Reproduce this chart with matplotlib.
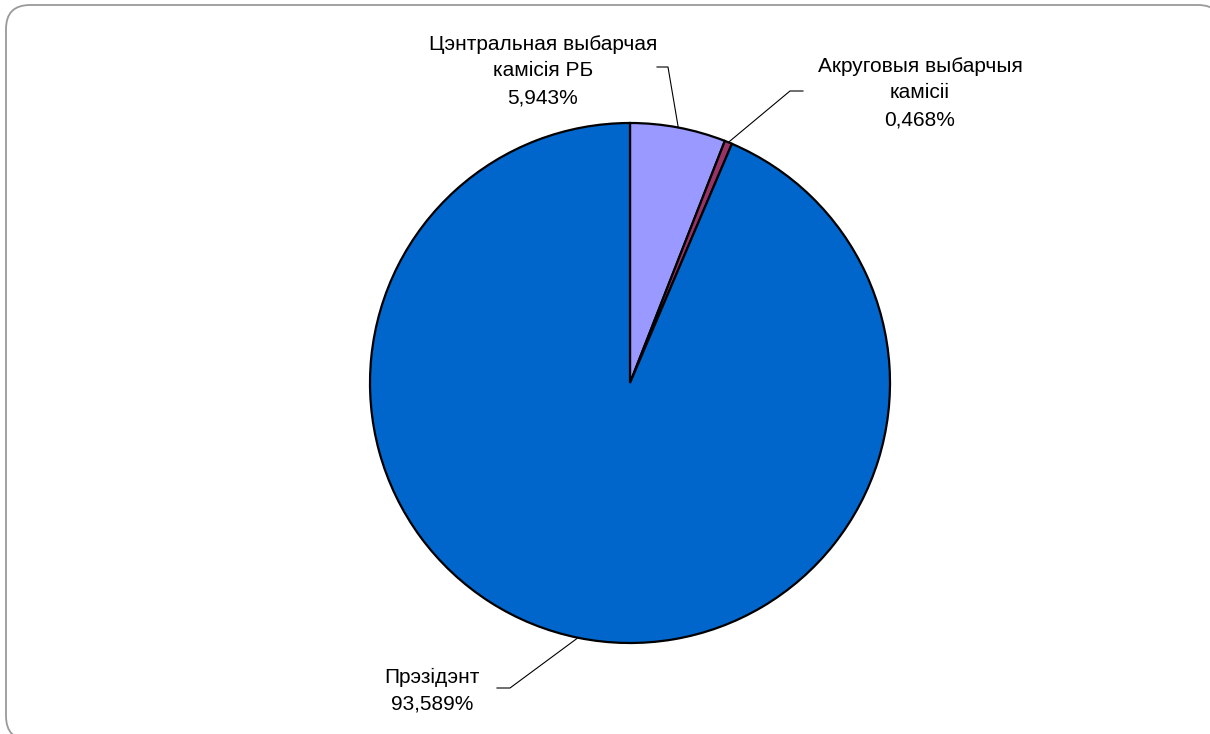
import numpy as np
import matplotlib.pyplot as plt
from matplotlib.patches import FancyBboxPatch

# Data
labels = [["Цэнтральная выбарчая", "камісія РБ"], ["Акруговыя выбарчыя", "камісіі"], ["Прэзідэнт"]]
values = [5.943, 0.468, 93.589]
value_text = ["5,943%", "0,468%", "93,589%"]
colors = ["#9999FF", "#993366", "#0066CC"]

W, H = 1210, 734
fig = plt.figure(figsize=(W / 100, H / 100), dpi=100)
ax = fig.add_axes([0, 0, 1, 1])

# rounded frame (runs off the right and bottom edges, as in the original)
frame = FancyBboxPatch((6, -6), 1216, 735,
                       boxstyle="round,pad=0,rounding_size=24",
                       facecolor="white", edgecolor="#9a9a9a", linewidth=1.3)
ax.add_patch(frame)

cx, cy, r = 630, H - 383, 260
wedges, _ = ax.pie(values, colors=colors, startangle=90, counterclock=False,
                   center=(cx, cy), radius=r, frame=True,
                   wedgeprops=dict(edgecolor="black", linewidth=1.6))
ax.set_xlim(0, W)
ax.set_ylim(0, H)
ax.set_aspect("equal")
ax.set_axis_off()

# first-line centre of each label and leader elbow
text_pos = [(543, H - 42), (920, H - 64), (432, H - 675)]
line_gap = 27
elbows = [((657, H - 67), (668, H - 67)),
          ((803, H - 91), (790, H - 91)),
          ((497, H - 688), (510, H - 688))]

for w, lab, vt, tp, (e0, e1) in zip(wedges, labels, value_text, text_pos, elbows):
    ang = np.deg2rad((w.theta1 + w.theta2) / 2)
    px, py = cx + r * np.cos(ang), cy + r * np.sin(ang)
    ax.plot([e0[0], e1[0], px], [e0[1], e1[1], py], color="black", lw=0.8)
    for i, line in enumerate(lab + [vt]):
        ax.text(tp[0], tp[1] - i * line_gap, line, ha="center", va="center_baseline",
                fontsize=15, family="Liberation Sans")

fig.savefig("out.png", dpi=100)
